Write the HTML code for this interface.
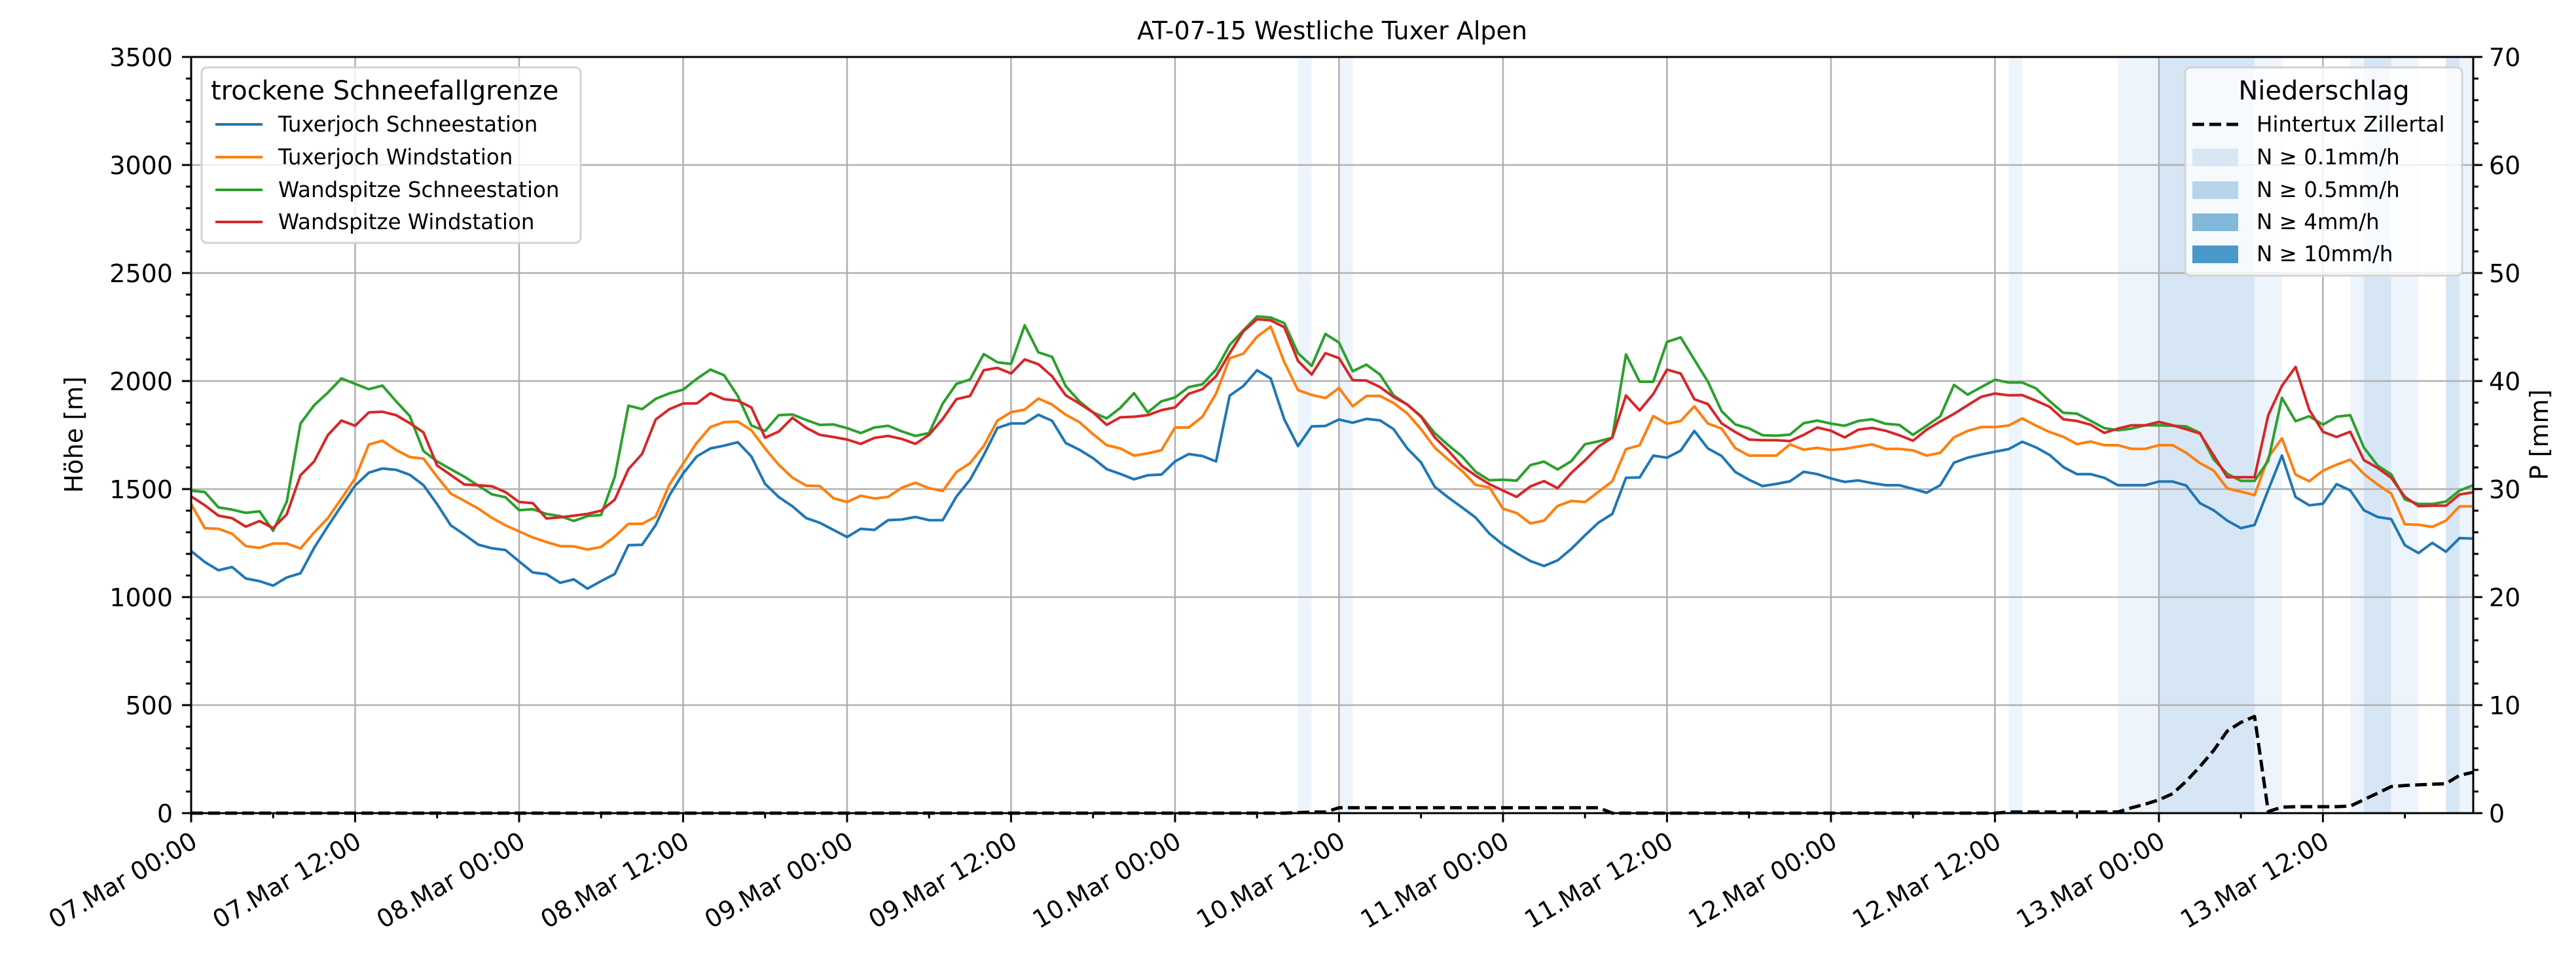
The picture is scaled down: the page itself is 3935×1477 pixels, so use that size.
<!DOCTYPE html>
<html><head><meta charset="utf-8">
<style>
html,body{margin:0;padding:0;background:#fff;}
svg{display:block;font-family:"DejaVu Sans","Liberation Sans",sans-serif;}
</style></head>
<body>
<svg id="chart" width="3935" height="1477" viewBox="0 0 3935 1477" xmlns="http://www.w3.org/2000/svg">
<rect x="0" y="0" width="3935" height="1477" fill="#fff"/>
<g id="bands"></g>
<g id="grid"></g>
<g id="series"></g>
<g id="axes"></g>
<text x="2035" y="60" font-size="38" text-anchor="middle">AT-07-15 Westliche Tuxer Alpen</text>
<text transform="translate(126,664) rotate(-90)" font-size="38" text-anchor="middle">Höhe [m]</text>
<text transform="translate(3892,664) rotate(-90)" font-size="38" text-anchor="middle">P [mm]</text>
<g>
<rect x="308" y="103" width="579" height="268" rx="8" fill="#fff" fill-opacity="0.8" stroke="#d3d3d3" stroke-width="3"/>
<text x="322" y="152" font-size="40">trockene Schneefallgrenze</text>
<g><line x1="329" y1="190" x2="401" y2="190" stroke="#1f77b4" stroke-width="4"/><text x="425" y="201" font-size="32.5">Tuxerjoch Schneestation</text></g>
<g><line x1="329" y1="240" x2="401" y2="240" stroke="#ff7f0e" stroke-width="4"/><text x="425" y="251" font-size="32.5">Tuxerjoch Windstation</text></g>
<g><line x1="329" y1="290" x2="401" y2="290" stroke="#2ca02c" stroke-width="4"/><text x="425" y="301" font-size="32.5">Wandspitze Schneestation</text></g>
<g><line x1="329" y1="339" x2="401" y2="339" stroke="#d62728" stroke-width="4"/><text x="425" y="350" font-size="32.5">Wandspitze Windstation</text></g>
</g>
<g>
<rect x="3338" y="103" width="423" height="318" rx="8" fill="#fff" fill-opacity="0.8" stroke="#d3d3d3" stroke-width="3"/>
<text x="3550" y="152" font-size="40" text-anchor="middle">Niederschlag</text>
<g><line x1="3349" y1="190" x2="3419" y2="190" stroke="#000" stroke-width="5" stroke-dasharray="18,8"/><text x="3447" y="201" font-size="32.5">Hintertux Zillertal</text></g>
<g><rect x="3349" y="227" width="70" height="27" fill="#d8e7f5"/><text x="3447" y="251" font-size="32.5">N ≥ 0.1mm/h</text></g>
<g><rect x="3349" y="277" width="70" height="27" fill="#b7d4ea"/><text x="3447" y="301" font-size="32.5">N ≥ 0.5mm/h</text></g>
<g><rect x="3349" y="326" width="70" height="27" fill="#82b9da"/><text x="3447" y="350" font-size="32.5">N ≥ 4mm/h</text></g>
<g><rect x="3349" y="375" width="70" height="27" fill="#4a97c9"/><text x="3447" y="399" font-size="32.5">N ≥ 10mm/h</text></g>
</g>
</svg>
<script>
const tickLabels = ["07.Mar 00:00","07.Mar 12:00","08.Mar 00:00","08.Mar 12:00","09.Mar 00:00","09.Mar 12:00","10.Mar 00:00","10.Mar 12:00","11.Mar 00:00","11.Mar 12:00","12.Mar 00:00","12.Mar 12:00","13.Mar 00:00","13.Mar 12:00"];
const yTicks = [0,500,1000,1500,2000,2500,3000,3500];
const y2Ticks = [0,10,20,30,40,50,60,70];
const tuxSchnee = [1213,1162,1124,1139,1086,1074,1053,1091,1110,1228,1327,1423,1516,1576,1595,1589,1566,1518,1430,1332,1289,1243,1226,1218,1165,1114,1106,1066,1082,1039,1074,1107,1240,1242,
1334,1471,1572,1651,1688,1701,1717,1651,1524,1463,1420,1366,1344,1311,1278,1316,1311,1356,1359,1371,1356,1356,1465,1543,1657,1783,1804,1804,1844,1816,1713,1682,
1643,1592,1570,1545,1564,1567,1628,1662,1653,1628,1932,1977,2050,2012,1822,1699,1790,1792,1822,1807,1825,1818,1777,1688,1623,1511,1461,1415,1368,1294,1243,1203,1167,1144,
1170,1223,1286,1345,1385,1552,1554,1655,1645,1678,1769,1688,1653,1579,1543,1514,1524,1536,1580,1569,1549,1533,1540,1528,1518,1518,1501,1483,1518,1622,1645,1660,
1673,1685,1719,1693,1658,1602,1569,1569,1552,1518,1518,1518,1535,1535,1516,1435,1402,1354,1319,1334,1496,1655,1463,1425,1432,1523,1494,1402,1371,1361,1240,1204,1251,1210,1273,1271];
const tuxWind = [1430,1319,1316,1293,1236,1228,1248,1248,1225,1299,1365,1456,1549,1706,1724,1681,1648,1641,1557,1479,1445,1410,1367,1332,1304,1276,1255,1236,1235,1220,1232,1280,1339,1339,
1373,1521,1618,1714,1787,1810,1812,1772,1688,1612,1553,1516,1514,1458,1440,1469,1456,1464,1506,1529,1504,1491,1579,1620,1699,1817,1856,1868,1919,1891,1844,1810,
1754,1703,1688,1655,1665,1680,1785,1785,1835,1942,2105,2127,2205,2252,2087,1958,1936,1921,1968,1883,1931,1931,1898,1850,1777,1692,1636,1584,1519,1508,1409,1389,1341,1354,
1422,1445,1440,1488,1536,1685,1703,1838,1802,1815,1883,1803,1780,1689,1655,1655,1655,1707,1682,1691,1681,1686,1697,1707,1686,1686,1679,1655,1668,1739,1769,1787,
1787,1794,1827,1794,1764,1742,1708,1720,1703,1703,1686,1686,1703,1703,1668,1620,1586,1503,1488,1472,1646,1735,1567,1536,1585,1613,1636,1570,1521,1479,1337,1335,1325,1354,1420,1420];
const wandSchnee = [1493,1486,1415,1405,1390,1397,1307,1442,1803,1888,1946,2012,1987,1962,1979,1906,1838,1676,1628,1592,1557,1516,1476,1462,1402,1407,1385,1375,1352,1375,1380,1557,1886,1870,
1918,1943,1960,2010,2053,2027,1931,1794,1769,1842,1845,1820,1797,1799,1782,1759,1785,1793,1767,1746,1759,1896,1987,2007,2125,2087,2079,2258,2133,2112,1976,1906,
1855,1827,1876,1944,1855,1906,1924,1972,1985,2053,2167,2235,2299,2294,2268,2129,2070,2218,2178,2045,2076,2030,1933,1891,1838,1759,1703,1651,1580,1541,1543,1539,1611,1627,
1591,1629,1708,1721,1738,2123,1997,1997,2181,2202,2099,1997,1860,1799,1781,1749,1747,1752,1805,1817,1803,1793,1815,1823,1802,1797,1751,1793,1837,1982,1937,1972,
2006,1993,1993,1966,1907,1853,1849,1816,1782,1772,1780,1795,1795,1793,1790,1760,1638,1571,1538,1538,1631,1922,1814,1837,1798,1835,1842,1692,1609,1568,1452,1431,1431,1442,1493,1518];
const wandWind = [1466,1425,1377,1365,1326,1352,1319,1383,1564,1628,1749,1817,1793,1855,1858,1842,1805,1762,1609,1565,1521,1518,1513,1486,1440,1435,1364,1369,1377,1385,1400,1451,1592,1663,
1822,1870,1896,1896,1944,1916,1909,1878,1738,1766,1830,1784,1751,1741,1729,1709,1737,1746,1732,1709,1751,1825,1916,1931,2050,2061,2035,2100,2078,2022,1934,1896,
1855,1797,1832,1835,1842,1865,1878,1941,1962,2022,2129,2230,2286,2281,2249,2093,2030,2129,2106,2004,2002,1972,1926,1891,1835,1739,1678,1607,1562,1523,1493,1464,1512,1537,
1504,1575,1633,1697,1738,1933,1864,1940,2053,2035,1916,1893,1804,1764,1729,1726,1726,1722,1751,1785,1770,1739,1775,1783,1770,1749,1724,1775,1813,1848,1888,1927,
1942,1934,1935,1909,1881,1823,1815,1798,1760,1780,1795,1795,1811,1795,1777,1757,1656,1555,1555,1555,1842,1978,2065,1867,1765,1741,1765,1634,1598,1552,1464,1421,1423,1423,1475,1485];
const precip = [0,0,0,0,0,0,0,0,0,0,0,0,0,0,0,0,0,0,0,0,0,0,0,0,0,0,0,0,0,0,0,0,0,0,0,0,0,0,0,0,0,0,0,0,0,0,0,0,0,0,0,0,0,0,0,0,0,0,0,0,0,0,0,0,0,0,0,0,0,0,0,0,0,0,0,0,0,0,0,0,0,
0.05,0.1,0.1,
0.5,0.5,0.5,0.5,0.5,0.5,0.5,0.5,0.5,0.5,0.5,0.5,0.5,0.5,0.5,0.5,0.5,0.5,0.5,0.5,
0,0,0,0,0,0,0,0,0,0,0,0,0,0,0,0,0,0,0,0,0,0,0,0,0,0,0,0,0,
0.1,0.1,0.1,0.1,0.1,0.1,0.1,0.1,0.1,
0.5,0.83,1.23,1.8,2.95,4.3,5.8,7.6,8.4,8.95,0.15,0.55,0.6,0.6,0.6,0.6,0.65,1.25,1.85,2.46,2.56,2.62,2.67,2.73,3.5,3.78];
const bandStart = [81,84,133,141,144,151,158,159,161,165,166];
const bandEnd   = [82,85,134,144,151,153,159,161,163,166,167];
const bandLevel = [0,0,0,0,1,0,0,1,0,1,0];

const NS = "http://www.w3.org/2000/svg";
const L = 292, R = 3778, T = 87, B = 1242, HMAX = 167;
const xS = h => L + h * (R - L) / HMAX;
const yS = v => B - v * (B - T) / 3500;
const y2S = v => B - v * (B - T) / 70;
function mk(tag, attrs, parent){ const e = document.createElementNS(NS, tag); for (const k in attrs) e.setAttribute(k, attrs[k]); parent.appendChild(e); return e; }

const gb = document.getElementById('bands');
const bandColors = ['#eef4fb','#d7e6f4'];
for (let i = 0; i < bandStart.length; i++) {
  const r = mk('rect', {x: xS(bandStart[i]), y: T, width: xS(bandEnd[i]) - xS(bandStart[i]), height: B - T, fill: bandColors[bandLevel[i]]}, gb);
  
  
}

const gg = document.getElementById('grid');
for (let i = 0; i < tickLabels.length; i++) {
  const l = mk('line', {x1: xS(i*12), x2: xS(i*12), y1: T, y2: B, stroke: '#b0b0b0', 'stroke-width': 2.5}, gg);
  
  
}
for (const v of yTicks) {
  const l = mk('line', {x1: L, x2: R, y1: yS(v), y2: yS(v), stroke: '#b0b0b0', 'stroke-width': 2.5}, gg);
  
  
}

const gs = document.getElementById('series');
function path(vals, sc, color, name, dash){
  let d = '';
  vals.forEach((v, i) => { d += (i ? 'L' : 'M') + xS(i).toFixed(1) + ',' + sc(v).toFixed(1); });
  const p = mk('path', {d: d, fill: 'none', stroke: color, 'stroke-width': dash ? 5 : 4, 'stroke-linejoin': 'round'}, gs);
  if (dash) p.setAttribute('stroke-dasharray', '18,8');
  
  
}
path(precip, y2S, '#000', 'hintertux-precip-line', true);
path(tuxSchnee, yS, '#1f77b4', 'tuxerjoch-schneestation-line');
path(tuxWind, yS, '#ff7f0e', 'tuxerjoch-windstation-line');
path(wandSchnee, yS, '#2ca02c', 'wandspitze-schneestation-line');
path(wandWind, yS, '#d62728', 'wandspitze-windstation-line');

const ga = document.getElementById('axes');
mk('rect', {x: L, y: T, width: R - L, height: B - T, fill: 'none', stroke: '#000', 'stroke-width': 3}, ga);
for (let h = 0; h <= HMAX; h += 6) {
  const major = h % 12 === 0;
  mk('line', {x1: xS(h), x2: xS(h), y1: B, y2: B + (major ? 14 : 8), stroke: '#000', 'stroke-width': 3}, ga);
}
tickLabels.forEach((lab, i) => {
  const x = xS(i*12);
  const t = mk('text', {transform: `translate(${x - 2},${B + 26}) rotate(-30)`, 'font-size': 38, 'text-anchor': 'end', 'dominant-baseline': 'hanging'}, ga);
  t.textContent = lab;
  
  
});
for (let v = 0; v <= 3500; v += 100) {
  const major = v % 500 === 0;
  mk('line', {x1: L - (major ? 14 : 8), x2: L, y1: yS(v), y2: yS(v), stroke: '#000', 'stroke-width': 3}, ga);
}
yTicks.forEach(v => {
  const t = mk('text', {x: L - 28, y: yS(v) + 14, 'font-size': 38, 'text-anchor': 'end'}, ga);
  t.textContent = v;
  
  
});
for (let v = 0; v <= 70; v += 2) {
  const major = v % 10 === 0;
  mk('line', {x1: R, x2: R + (major ? 14 : 8), y1: y2S(v), y2: y2S(v), stroke: '#000', 'stroke-width': 3}, ga);
}
y2Ticks.forEach(v => {
  const t = mk('text', {x: R + 24, y: y2S(v) + 14, 'font-size': 38, 'text-anchor': 'start'}, ga);
  t.textContent = v;
  
  
});
</script>
</body></html>
